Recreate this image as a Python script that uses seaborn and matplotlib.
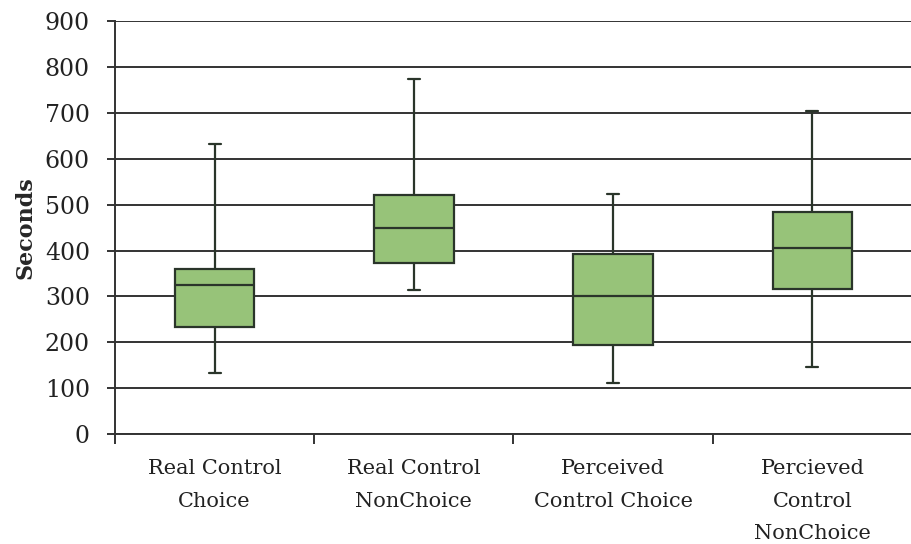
import matplotlib.pyplot as plt
import seaborn as sns
import pandas as pd

sns.set_style("white")
plt.rcParams['font.family'] = ['DejaVu Serif']

groups = ['Real Control\nChoice', 'Real Control\nNonChoice',
          'Perceived\nControl Choice', 'Percieved\nControl\nNonChoice']
# five-number summaries (seconds)
whisker_low = [133, 315, 112, 147]
q1 = [233, 373, 194, 316]
median = [325, 450, 302, 406]
q3 = [359, 521, 393, 484]
whisker_high = [632, 774, 524, 705]

rows = []
for i, g in enumerate(groups):
    for v in [whisker_low[i], q1[i], median[i], q3[i], whisker_high[i]]:
        rows.append({'Group': g, 'Seconds': v})
df = pd.DataFrame(rows)

fig, ax = plt.subplots(figsize=(9.12, 5.44), dpi=100)
fig.subplots_adjust(left=0.126, right=1.0, top=0.961, bottom=0.202)

ax.set_axisbelow(True)
ax.yaxis.grid(True, color='#333333', linewidth=1.4)

sns.boxplot(data=df, x='Group', y='Seconds', ax=ax, whis=(0, 100),
            width=0.4, color='#97c379', saturation=1, linecolor='#2a352a',
            linewidth=1.6, capwidths=0.06, zorder=3)

ax.set_ylim(0, 900)
ax.set_yticks(range(0, 901, 100))
ax.set_xlim(-0.5, 3.5)
ax.set_xlabel('')
ax.set_ylabel('Seconds', fontsize=16, fontweight='bold')
ax.yaxis.set_label_coords(-0.098, 0.5)

for s in ['top', 'right']:
    ax.spines[s].set_visible(False)
for s in ['left', 'bottom']:
    ax.spines[s].set_color('#333333')
    ax.spines[s].set_linewidth(1.4)

ax.tick_params(axis='y', labelsize=17, length=6, width=1.4, color='#333333',
               direction='out', left=True, labelcolor='#222222', pad=12)
ax.tick_params(axis='x', which='major', labelsize=15, length=0, pad=18,
               labelcolor='#222222')
for lbl in ax.get_xticklabels():
    lbl.set_linespacing(1.9)
ax.set_xticks([-0.5, 0.5, 1.5, 2.5], minor=True)
ax.tick_params(axis='x', which='minor', length=7, width=1.4,
               color='#333333', direction='out', bottom=True)

plt.savefig('out.png')
